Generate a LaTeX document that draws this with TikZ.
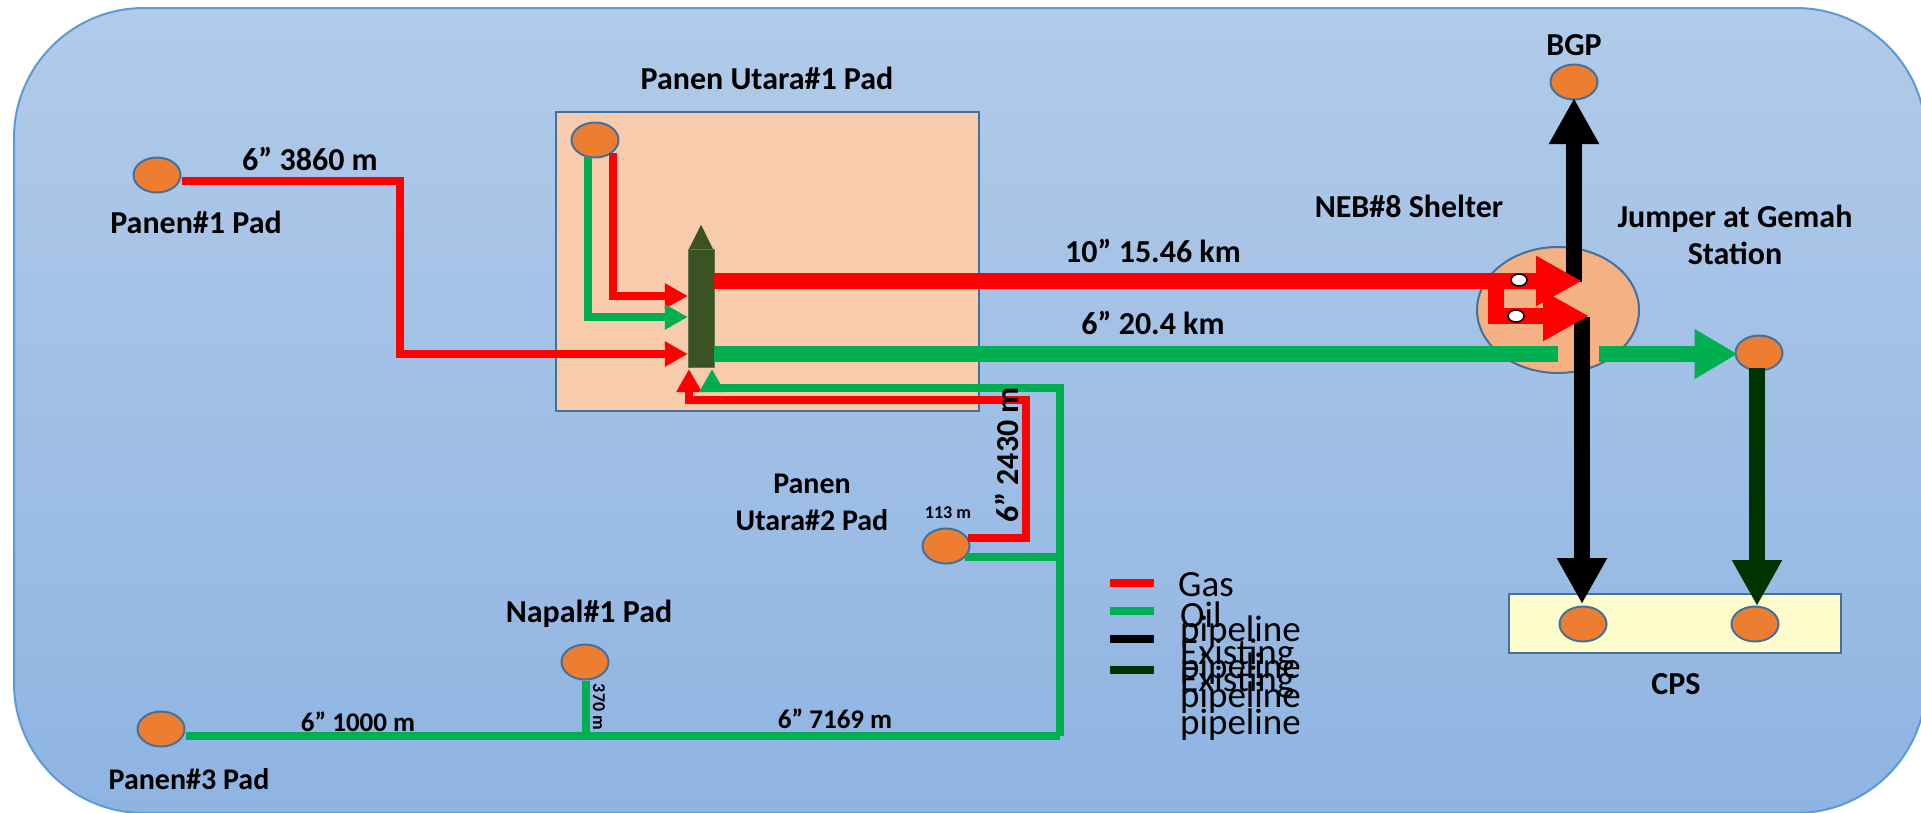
\documentclass[tikz,border=0pt]{standalone}
\usepackage{fontspec}
\setmainfont{Carlito}
\usetikzlibrary{arrows.meta,shapes.geometric}
\definecolor{padfill}{HTML}{ED7D31}
\definecolor{padedge}{HTML}{41719C}
\definecolor{gasred}{HTML}{FF0000}
\definecolor{oilgreen}{HTML}{00B050}
\definecolor{exgreen}{HTML}{003300}
\definecolor{barfill}{HTML}{3B5323}
\definecolor{bgedge}{HTML}{5B9BD5}
\definecolor{bgtop}{HTML}{B1CBE9}
\definecolor{bgbottom}{HTML}{8FB4E2}
\tikzset{
pad/.style={ellipse,draw=padedge,fill=padfill,line width=2pt,minimum width=47pt,minimum height=35pt,inner sep=0pt},
lbl/.style={font=\bfseries\fontsize{32}{37}\selectfont,inner sep=0pt,align=center},
midlbl/.style={font=\bfseries\fontsize{30}{37}\selectfont,inner sep=0pt,align=center},
lenlbl/.style={font=\bfseries\fontsize{27}{30}\selectfont,inner sep=0pt},
smalllbl/.style={font=\bfseries\fontsize{18}{20}\selectfont,inner sep=0pt},
legendlbl/.style={font=\fontsize{37}{40}\selectfont,inner sep=0pt,anchor=base west},
gaspipe/.style={draw=gasred,line width=8pt},
oilpipe/.style={draw=oilgreen,line width=8pt},
gasmain/.style={draw=gasred,line width=16pt},
oilmain/.style={draw=oilgreen,line width=16pt},
smalltip/.style={-{Triangle[length=23pt,width=24pt]}},
bigtip/.style={-{Triangle[length=46pt,width=47pt]}},
legendbar/.style={line width=8pt},
valve/.style={ellipse,draw,fill=white,line width=1.5pt,minimum width=16pt,minimum height=12pt,inner sep=0pt}
}
\begin{document}
\begin{tikzpicture}[x=1pt,y=-1pt]
\path[use as bounding box,clip] (0,0) rectangle (1921,812);
% background and boxes
\draw[draw=bgedge,line width=2pt,rounded corners=130pt,top color=bgtop,bottom color=bgbottom] (14,8) rectangle (1926,813);
\node[draw=padedge,fill=padfill!40!white,line width=2pt,minimum width=423pt,minimum height=299pt,inner sep=0pt] (utaraBox) at (767.5,261.5) {};
\node[draw=padedge,fill=yellow!20!white,line width=2pt,minimum width=332pt,minimum height=59pt,inner sep=0pt] (cpsBox) at (1675,623.5) {};
\node[ellipse,draw=padedge,fill=padfill!60!white,line width=2pt,minimum width=162pt,minimum height=126pt,inner sep=0pt] (shelter) at (1558,310) {};

% pads
\node[pad] (panenSatu) at (157,175) {};
\node[pad] (panenTiga) at (161,729) {};
\node[pad] (napal) at (585,662) {};
\node[pad] (utaraSatu) at (595,140) {};
\node[pad] (utaraDua) at (946,546) {};
\node[pad] (bgp) at (1574,82) {};
\node[pad] (jumper) at (1759,353) {};
\node[pad] (cpsKiri) at (1583,624) {};
\node[pad] (cpsKanan) at (1755,624) {};
\node[draw=barfill!80!white,fill=barfill,minimum width=26pt,minimum height=118pt,inner sep=0pt] (manifold) at (701,308) {};
\node[isosceles triangle,isosceles triangle apex angle=53,shape border rotate=90,fill=barfill,minimum height=24pt,minimum width=24pt,inner sep=0pt,anchor=lower side] (manifoldCap) at (701,249) {};

% junctions
\coordinate (gasBend) at (400,181);
\coordinate (gasKnee) at (1026,400);
\coordinate (oilKnee) at (1060,388);
\coordinate (oilTee) at (1060,557);
\coordinate (oilFoot) at (1060,736);
\coordinate (shelterGasTop) at (1582,281);
\coordinate (shelterGasLow) at (1589,316);
\coordinate (shelterOilEnd) at (1558,354);
\coordinate (shelterOilOut) at (1599,354);
\coordinate (blackUp) at (1574,282);
\coordinate (blackDown) at (1582,317);
\coordinate (gasFork) at (1496,281);

% existing pipelines
\draw[line width=16pt,bigtip] (blackUp) -- (bgp.south |- 0,98);
\draw[line width=16pt,bigtip] (blackDown) -- (1582,604);
\draw[draw=exgreen,fill=exgreen,line width=16pt,bigtip] (1757,368) -- (1757,606);

% gas lines
\draw[gaspipe,smalltip] (panenSatu.east |- gasBend) -- (gasBend) -- (400,354) -- (manifold.west |- 0,354);
\draw[gaspipe,smalltip] (613,153) -- (613,296) -- (manifold.west |- 0,296);
\draw[gaspipe,smalltip] ([xshift=-3pt]utaraDua.east |- 0,538) -- (1026,538) -- (gasKnee) -- (689,400) -- (689,369);
\draw[gasmain,bigtip] (manifold.east |- 0,281) -- (shelterGasTop);
\draw[gasmain] (gasFork) -- (1496,316);
\draw[gasmain,bigtip] (1488,316) -- (shelterGasLow);

% oil lines
\draw[oilpipe,smalltip] (588,157) -- (588,317) -- (manifold.west |- 0,317);
\draw[oilpipe,smalltip] (oilFoot) -- (oilKnee) -- (712,388) -- (712,369);
\draw[oilpipe] ([xshift=-6pt]utaraDua.east |- oilTee) -- (oilTee);
\draw[oilpipe] (panenTiga.east |- oilFoot) -- (oilFoot);
\draw[oilpipe] (napal.south) ++(1,0) -- (586,740);
\draw[oilmain] (manifold.east |- 0,354) -- (shelterOilEnd);
\draw[oilmain,-{Triangle[length=43pt,width=47pt]}] (shelterOilOut) -- ([xshift=3pt]jumper.west |- shelterOilOut);

% shelter valves
\node[valve] (valveTop) at (1519,280) {};
\node[valve] (valveLow) at (1516,316) {};

% labels
\node[lbl] (utaraSatuLbl) at (767,78) {Panen Utara\#1 Pad};
\node[lbl] (panenSatuLbl) at (196,222) {Panen\#1 Pad};
\node[midlbl] (panenTigaLbl) at (189,779) {Panen\#3 Pad};
\node[lbl] (napalLbl) at (589,614) {Napal\#1 Pad};
\node[midlbl] (utaraDuaLbl) at (812,502) {Panen\\Utara\#2 Pad};
\node[lbl] (shelterLbl) at (1409,206) {NEB\#8 Shelter};
\node[lbl] (jumperLbl) at (1735,235) {Jumper at Gemah\\Station};
\node[lbl] (bgpLbl) at (1574,45) {BGP};
\node[lbl] (cpsLbl) at (1676,684) {CPS};
\node[lbl] (gasSatuLbl) at (310,159) {6” 3860 m};
\node[lbl] (gasMainLbl) at (1153,251) {10” 15.46 km};
\node[lbl] (oilMainLbl) at (1153,323) {6” 20.4 km};
\node[lenlbl] (seribuLbl) at (358,722) {6” 1000 m};
\node[lenlbl] (tujuhLbl) at (835,719) {6” 7169 m};
\node[lbl,rotate=90] (gasDuaLbl) at (1007,455) {6” 2430 m};
\node[smalllbl] (seratusLbl) at (948,513) {113 m};
\node[smalllbl,rotate=-90] (napalLenLbl) at (599,707) {370 m};

% legend
\coordinate (legendGasA) at (1110,583);
\coordinate (legendOilA) at (1110,611);
\coordinate (legendExA) at (1110,639);
\coordinate (legendExB) at (1110,670);
\draw[legendbar,draw=gasred] (legendGasA) -- ++(44,0);
\draw[legendbar,draw=oilgreen] (legendOilA) -- ++(44,0);
\draw[legendbar,draw=black] (legendExA) -- ++(44,0);
\draw[legendbar,draw=exgreen] (legendExB) -- ++(44,0);
\node[legendlbl] (legGas) at (1178,596) {Gas};
\node[legendlbl] (legOil) at (1180,627) {Oil};
\node[legendlbl] (legPipeA) at (1180,641) {pipeline};
\node[legendlbl] (legExA) at (1180,664) {Existing};
\node[legendlbl] (legPipeB) at (1180,678) {pipeline};
\node[legendlbl] (legExB) at (1180,691) {Existing};
\node[legendlbl] (legPipeC) at (1180,707) {pipeline};
\node[legendlbl] (legPipeD) at (1180,734) {pipeline};
\end{tikzpicture}
\end{document}
